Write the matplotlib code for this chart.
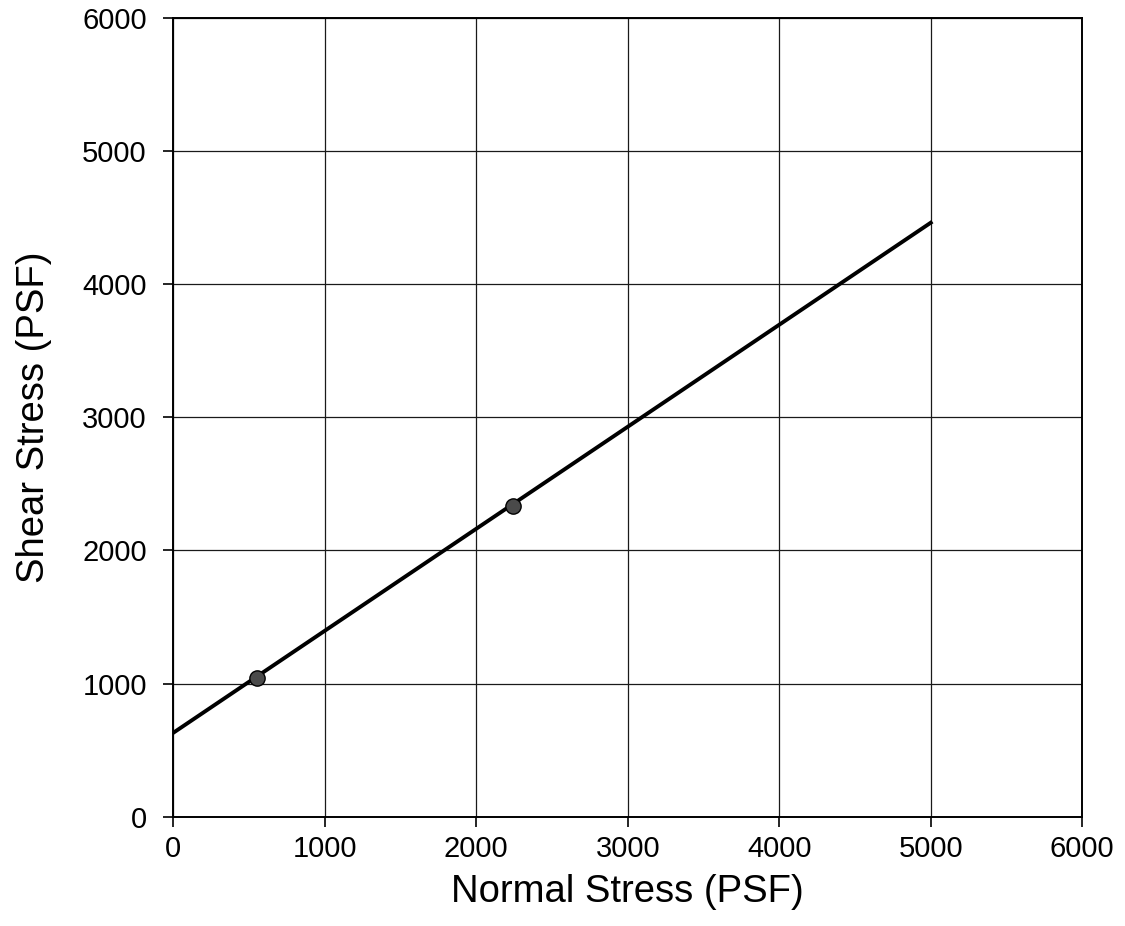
import matplotlib
matplotlib.use('Agg')
import matplotlib.pyplot as plt
import numpy as np

plt.rcParams['font.family'] = ['Liberation Sans', 'DejaVu Sans']

# direct shear test results and fitted failure envelope
normal_stress = [555, 2243]      # PSF
shear_stress = [1045, 2335]      # PSF
envelope_normal = [0, 5000]
envelope_shear = [630, 4460]

ticks = [0, 1000, 2000, 3000, 4000, 5000, 6000]

fig = plt.figure(figsize=(11.25, 9.26), dpi=100)
ax = fig.add_axes([0.154, 0.118, 0.808, 0.863])

ax.plot(envelope_normal, envelope_shear, color='black', linewidth=2.8, zorder=3)
ax.plot(normal_stress, shear_stress, 'o', markersize=11, markerfacecolor='#4a4a4a',
        markeredgecolor='black', markeredgewidth=1, zorder=4)

ax.set_xlim(0, 6000)
ax.set_ylim(0, 6000)
ax.set_xticks(ticks)
ax.set_yticks(ticks)
ax.grid(True, color='#1a1a1a', linewidth=0.9)
ax.set_axisbelow(True)

for spine in ax.spines.values():
    spine.set_linewidth(1.4)

ax.tick_params(axis='both', direction='out', length=7, width=1.2, labelsize=21)
ax.tick_params(axis='y', pad=12)
ax.tick_params(axis='x', pad=6)
ax.set_xlabel('Normal Stress (PSF)', fontsize=27.5, labelpad=8)
ax.set_ylabel('Shear Stress (PSF)', fontsize=27.5, labelpad=22)

fig.savefig('out.png', dpi=100)
plt.close()
